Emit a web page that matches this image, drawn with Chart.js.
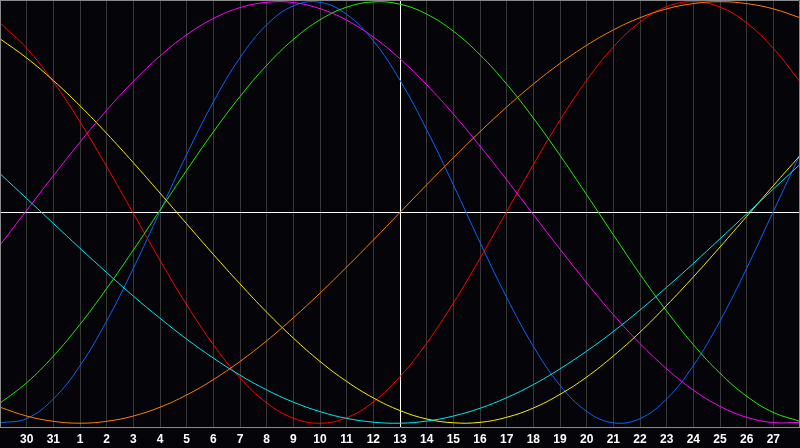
<!DOCTYPE html>
<html>
<head>
<meta charset="utf-8">
<script src="https://cdn.jsdelivr.net/npm/chart.js@4.4.0/dist/chart.umd.min.js"></script>
<style>
  html, body { margin: 0; padding: 0; background: #050408; }
  canvas { display: block; }
</style>
</head>
<body>
<canvas id="bioChart" width="800" height="448"></canvas>
<script>
// days along the bottom, 29 and 28 sit on the edges and are not printed
const days = [29, 30, 31, 1, 2, 3, 4, 5, 6, 7, 8, 9, 10, 11, 12, 13, 14, 15, 16, 17, 18, 19, 20, 21, 22, 23, 24, 25, 26, 27, 28];
const centerDay = 15; // index of the white "today" line

// cycle values, one per day (-1 .. 1)
const blue    = [-0.998, -0.978, -0.885, -0.727, -0.515, -0.265, 0.005, 0.275, 0.524, 0.734, 0.890, 0.980, 0.997, 0.940, 0.814, 0.627, 0.393, 0.131, -0.142, -0.403, -0.635, -0.820, -0.944, -0.998, -0.978, -0.885, -0.727, -0.515, -0.265, 0.005, 0.275];
const red     = [0.899, 0.779, 0.620, 0.430, 0.218, -0.004, -0.227, -0.438, -0.627, -0.785, -0.903, -0.976, -1.000, -0.974, -0.899, -0.779, -0.620, -0.430, -0.218, 0.004, 0.227, 0.438, 0.627, 0.785, 0.903, 0.976, 1.000, 0.974, 0.899, 0.779, 0.620];
const green   = [-0.905, -0.808, -0.682, -0.531, -0.361, -0.178, 0.011, 0.200, 0.382, 0.550, 0.698, 0.821, 0.914, 0.974, 0.999, 0.988, 0.941, 0.860, 0.748, 0.609, 0.448, 0.271, 0.084, -0.106, -0.293, -0.468, -0.627, -0.763, -0.872, -0.949, -0.991];
const magenta = [-0.155, 0.010, 0.174, 0.334, 0.485, 0.622, 0.742, 0.843, 0.920, 0.972, 0.997, 0.996, 0.967, 0.912, 0.832, 0.729, 0.606, 0.467, 0.315, 0.155, -0.010, -0.174, -0.334, -0.485, -0.622, -0.742, -0.843, -0.920, -0.972, -0.997, -0.996];
const yellow  = [0.824, 0.733, 0.626, 0.506, 0.375, 0.236, 0.092, -0.054, -0.199, -0.339, -0.473, -0.596, -0.707, -0.802, -0.880, -0.940, -0.980, -0.998, -0.996, -0.972, -0.928, -0.863, -0.781, -0.681, -0.568, -0.441, -0.306, -0.164, -0.019, 0.127, 0.270];
const orange  = [-0.924, -0.966, -0.991, -1.000, -0.991, -0.966, -0.924, -0.866, -0.793, -0.707, -0.609, -0.500, -0.383, -0.259, -0.131, 0.000, 0.131, 0.259, 0.383, 0.500, 0.609, 0.707, 0.793, 0.866, 0.924, 0.966, 0.991, 1.000, 0.991, 0.966, 0.924];
const cyan    = [0.184, 0.066, -0.052, -0.170, -0.285, -0.397, -0.502, -0.601, -0.691, -0.772, -0.842, -0.900, -0.945, -0.977, -0.995, -1.000, -0.990, -0.966, -0.929, -0.879, -0.817, -0.742, -0.658, -0.565, -0.463, -0.355, -0.242, -0.125, -0.007, 0.111, 0.228];

function cycle(data, color) {
    return {
        data: data,
        borderColor: color,
        borderWidth: 1,
        pointRadius: 0,
        tension: 0.4,
        fill: false
    };
}

// grey frame on top, left and right of the plot
const framePlugin = {
    id: 'frame',
    afterDraw(chart) {
        const c = chart.ctx;
        const bottom = chart.chartArea.bottom;
        c.save();
        c.strokeStyle = '#8a8a8a';
        c.lineWidth = 1;
        c.beginPath();
        c.moveTo(0.5, bottom);
        c.lineTo(0.5, 0.5);
        c.lineTo(chart.width - 0.5, 0.5);
        c.lineTo(chart.width - 0.5, bottom);
        c.stroke();
        c.restore();
    }
};

new Chart(document.getElementById('bioChart'), {
    type: 'line',
    data: {
        labels: days,
        datasets: [
            cycle(orange, '#ff8000'),
            cycle(cyan, '#00e8f0'),
            cycle(yellow, '#f8f000'),
            cycle(magenta, '#ff00ff'),
            cycle(green, '#20f000'),
            cycle(red, '#ff0000'),
            cycle(blue, '#0a64ff')
        ]
    },
    options: {
        responsive: false,
        animation: false,
        layout: { padding: 0 },
        plugins: {
            legend: { display: false },
            tooltip: { enabled: false }
        },
        scales: {
            x: {
                type: 'category',
                offset: false,
                afterFit: s => {
                    s.height = 21;
                    s.paddingLeft = 0;   // plot runs edge to edge
                    s.paddingRight = 0;
                },
                grid: {
                    drawTicks: false,
                    lineWidth: 1,
                    color: ctx => {
                        if (ctx.index === centerDay) return '#ffffff';
                        if (ctx.index === 0 || ctx.index === days.length - 1) return '#8a8a8a';
                        return '#383838';
                    }
                },
                border: { color: '#8a8a8a', width: 1 },
                ticks: {
                    color: '#ffffff',
                    autoSkip: false,
                    maxRotation: 0,
                    padding: 5,
                    font: { family: 'Liberation Sans', size: 12, weight: 'bold' },
                    callback: (v, i) => (i === 0 || i === days.length - 1) ? '' : days[i]
                }
            },
            y: {
                min: -1.018,
                max: 1.008,
                afterFit: s => { s.width = 0; },
                ticks: { display: false, stepSize: 1 },
                grid: {
                    drawTicks: false,
                    lineWidth: 1,
                    color: ctx => ctx.tick.value === 0 ? '#ffffff' : 'rgba(0,0,0,0)'
                },
                border: { display: false }
            }
        }
    },
    plugins: [framePlugin]
});
</script>
</body>
</html>
